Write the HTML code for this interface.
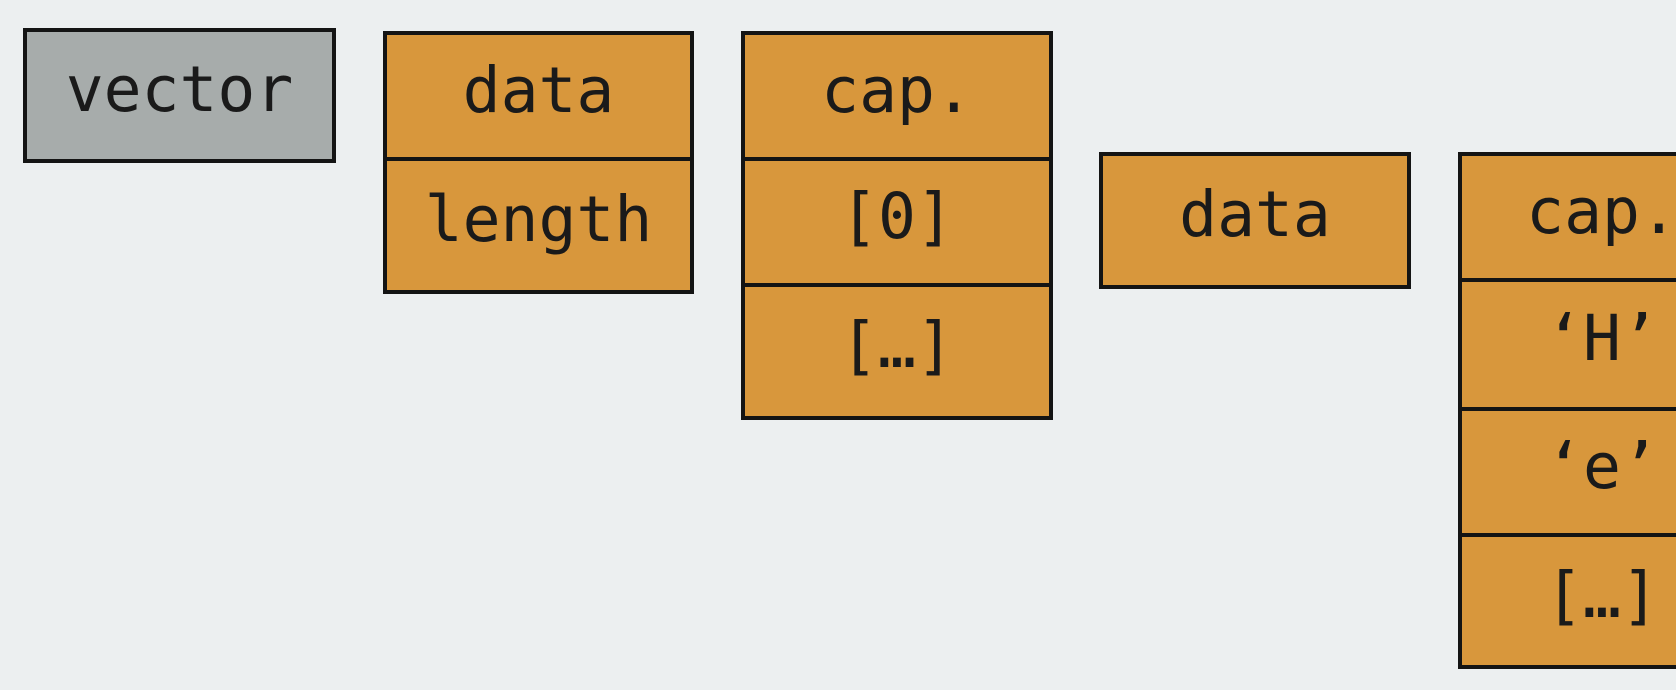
<!DOCTYPE html>
<html><head><style>
html,body{margin:0;padding:0;width:1676px;height:690px;overflow:hidden;background:#eceff0;}
.b{position:absolute;box-sizing:border-box;border:4px solid #141414;background:#d8973c;}
.c{position:absolute;left:0;right:0;display:flex;align-items:center;justify-content:center;font-family:"DejaVu Sans Mono","Liberation Mono",monospace;font-size:63px;color:#1a1a1a;transform:translateY(-6px);}
.d{position:absolute;left:0;right:0;height:4px;background:#141414;}
</style></head><body>
<div class="b" style="left:23px;top:28px;width:313px;height:135px;background:#a7acab;"><div class="c" style="top:0;bottom:0">vector</div></div>

<div class="b" style="left:383px;top:31px;width:311px;height:263px;">
<div class="c" style="top:0;height:122px">data</div>
<div class="d" style="top:122px"></div>
<div class="c" style="top:126px;height:129px">length</div>
</div>

<div class="b" style="left:741px;top:31px;width:312px;height:389px;">
<div class="c" style="top:0;height:122px">cap.</div>
<div class="d" style="top:122px"></div>
<div class="c" style="top:126px;height:122px">[0]</div>
<div class="d" style="top:248px"></div>
<div class="c" style="top:252px;height:129px">[…]</div>
</div>

<div class="b" style="left:1099px;top:152px;width:312px;height:137px;"><div class="c" style="top:0;bottom:0">data</div></div>

<div class="b" style="left:1458px;top:152px;width:284px;height:517px;border-right:none;">
<div class="c" style="top:0;height:122px">cap.</div>
<div class="d" style="top:122px"></div>
<div class="c" style="top:126px;height:125px">‘H’</div>
<div class="d" style="top:251px"></div>
<div class="c" style="top:255px;height:122px">‘e’</div>
<div class="d" style="top:377px"></div>
<div class="c" style="top:381px;height:128px">[…]</div>
</div>
</body></html>
